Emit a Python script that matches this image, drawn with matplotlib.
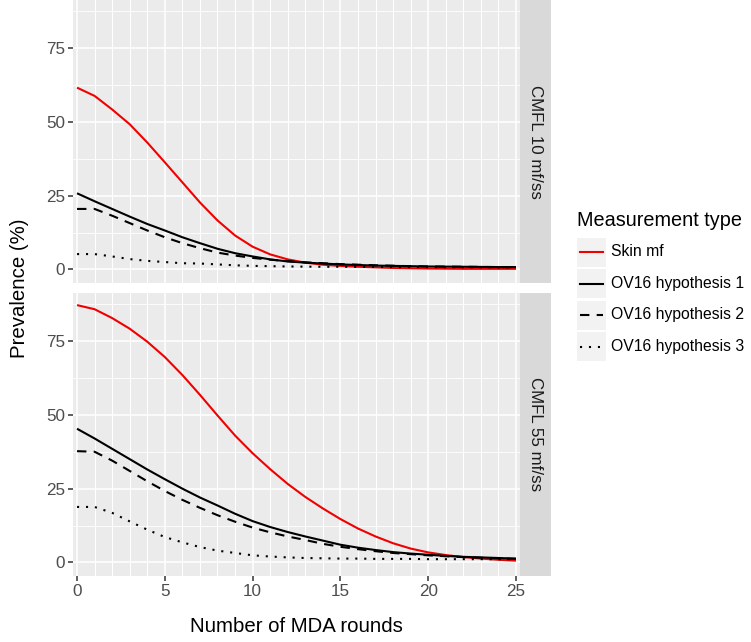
import matplotlib
matplotlib.use("Agg")
import matplotlib.pyplot as plt
from matplotlib.lines import Line2D
from matplotlib.patches import Rectangle

plt.rcParams['font.family'] = ['Liberation Sans', 'DejaVu Sans']

rounds = list(range(0, 26))

# CMFL 10 mf/ss
skin_10 = [61.6, 58.8, 54.2, 49.2, 43.0, 36.3, 29.5, 22.7, 16.6, 11.5, 7.7, 5.1, 3.4,
           2.3, 1.6, 1.2, 0.9, 0.7, 0.5, 0.4, 0.3, 0.25, 0.2, 0.2, 0.2, 0.2]
h1_10 = [25.8, 23.1, 20.5, 17.9, 15.4, 13.2, 10.9, 8.9, 7.0, 5.5, 4.4, 3.4, 2.7,
         2.3, 2.0, 1.7, 1.5, 1.3, 1.2, 1.1, 1.0, 0.95, 0.9, 0.85, 0.8, 0.8]
h2_10 = [20.5, 20.5, 18.2, 15.7, 13.2, 10.9, 8.9, 7.2, 5.7, 4.7, 3.9, 3.3, 2.8,
         2.4, 2.1, 1.8, 1.6, 1.4, 1.25, 1.1, 1.0, 0.95, 0.9, 0.85, 0.8, 0.8]
h3_10 = [5.2, 5.2, 4.4, 3.5, 2.9, 2.5, 2.1, 2.0, 1.7, 1.4, 1.2, 1.1, 1.0,
         0.95, 0.9, 0.9, 0.85, 0.85, 0.8, 0.8, 0.8, 0.75, 0.75, 0.75, 0.7, 0.7]

# CMFL 55 mf/ss
skin_55 = [87.2, 85.8, 82.8, 79.2, 74.8, 69.6, 63.5, 56.8, 49.8, 43.0, 37.0, 31.6, 26.6,
           22.2, 18.3, 14.7, 11.5, 8.8, 6.5, 4.7, 3.4, 2.5, 1.8, 1.3, 0.9, 0.6]
h1_55 = [45.3, 42.0, 38.5, 35.0, 31.5, 28.2, 25.0, 22.0, 19.3, 16.5, 14.0, 12.0, 10.3,
         8.8, 7.4, 6.0, 5.0, 4.2, 3.5, 3.0, 2.6, 2.2, 1.9, 1.7, 1.5, 1.3]
h2_55 = [37.7, 37.5, 34.5, 31.0, 27.5, 24.2, 21.2, 18.5, 16.0, 13.8, 11.8, 10.2, 8.8,
         7.6, 6.3, 5.3, 4.5, 3.8, 3.2, 2.8, 2.4, 2.1, 1.8, 1.6, 1.4, 1.2]
h3_55 = [18.8, 18.8, 16.8, 13.9, 11.1, 8.6, 6.8, 5.2, 4.0, 3.2, 2.4, 2.0, 1.7,
         1.5, 1.4, 1.3, 1.3, 1.2, 1.2, 1.2, 1.1, 1.1, 1.1, 1.1, 1.1, 1.1]

facet_labels = ["CMFL 10 mf/ss", "CMFL 55 mf/ss"]
series_names = ["Skin mf", "OV16 hypothesis 1", "OV16 hypothesis 2", "OV16 hypothesis 3"]
x_ticks = [0, 5, 10, 15, 20, 25]
y_ticks = [0, 25, 50, 75]

styles = [
    dict(color="#F00000", ls="-"),
    dict(color="black", ls="-"),
    dict(color="black", ls=(0, (4.5, 3.5))),
    dict(color="black", ls=(0, (1, 3.3))),
]

W, H = 751, 642
fig = plt.figure(figsize=(W / 100, H / 100), dpi=100)

def fx(px):
    return px / W

def fy(py):
    return 1 - py / H

panel_l, panel_r = 73, 520
panels_y = [(0, 283), (293, 576)]
data = [[skin_10, h1_10, h2_10, h3_10], [skin_55, h1_55, h2_55, h3_55]]

tick_col = "#4D4D4D"
for i, (top, bot) in enumerate(panels_y):
    ax = fig.add_axes([fx(panel_l), fy(bot), fx(panel_r) - fx(panel_l), (bot - top) / H])
    ax.set_facecolor("#EBEBEB")
    for s in ax.spines.values():
        s.set_visible(False)
    ax.set_xlim(-0.23, 25.23)
    ax.set_ylim(-4.6, 91.3)
    for xv in range(0, 26):
        ax.axvline(xv, color="white", lw=1.1 if xv % 5 == 0 else 0.75, zorder=0)
    for yv in [0, 25, 50, 75]:
        ax.axhline(yv, color="white", lw=1.1, zorder=0)
    for yv in [12.5, 37.5, 62.5, 87.5]:
        ax.axhline(yv, color="white", lw=0.6, zorder=0)
    for ser, st in zip(data[i], styles):
        ax.plot(rounds, ser, color=st["color"], ls=st["ls"], lw=1.5, zorder=3,
                solid_capstyle="butt", dash_capstyle="butt")
    ax.set_yticks(y_ticks)
    ax.set_yticklabels([str(v) for v in y_ticks])
    ax.tick_params(axis="both", colors="#333333", length=3.5, width=1.1,
                   labelsize=12.3, labelcolor=tick_col, pad=2)
    ax.set_xticks(x_ticks)
    if i == 0:
        ax.tick_params(axis="x", length=0, labelbottom=False)
    else:
        ax.set_xticklabels([str(v) for v in x_ticks])
    fig.add_artist(Rectangle((fx(520), fy(bot)), fx(551) - fx(520), (bot - top) / H,
                             facecolor="#D9D9D9", edgecolor="none", transform=fig.transFigure))
    fig.text(fx(535.5), fy((top + bot) / 2), facet_labels[i], rotation=-90,
             ha="center", va="center", fontsize=12.2, color="#1A1A1A")

fig.text(fx(296.5), fy(627), "Number of MDA rounds", ha="center", va="center", fontsize=14.7)
fig.text(fx(20), fy(288), "Prevalence (%)", ha="center", va="center", rotation=90, fontsize=14.7)

# legend
fig.text(fx(577), fy(221), "Measurement type", ha="left", va="center", fontsize=14.3)
key_y = [252, 283.5, 315, 346.5]
for ky, st, name in zip(key_y, styles, series_names):
    fig.add_artist(Rectangle((fx(577), fy(ky + 14.5)), fx(29), 29 / H,
                             facecolor="#F2F2F2", edgecolor="none", transform=fig.transFigure))
    fig.add_artist(Line2D([fx(580), fx(603)], [fy(ky), fy(ky)], color=st["color"],
                          ls=st["ls"], lw=1.5, transform=fig.transFigure))
    fig.text(fx(611), fy(ky), name, ha="left", va="center", fontsize=11.3)

fig.savefig("out.png", dpi=100)
